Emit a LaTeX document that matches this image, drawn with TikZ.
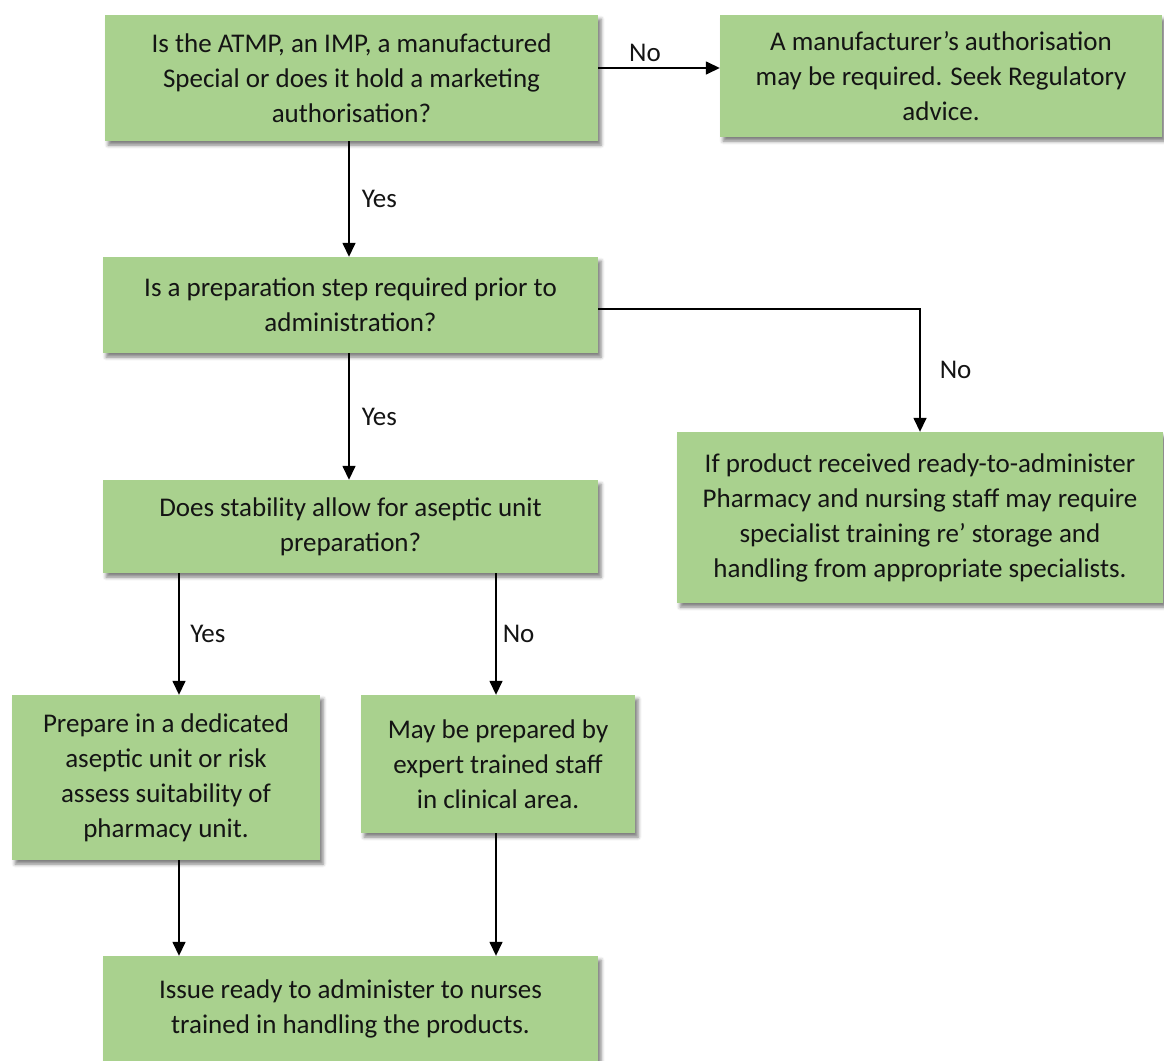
\documentclass[tikz,border=0pt]{standalone}
\usepackage{fontspec}
\setmainfont{Carlito}
\usetikzlibrary{arrows.meta,shadows.blur}
\definecolor{boxgreen}{RGB}{169,209,142}
\definecolor{inkdark}{RGB}{20,20,20}
\begin{document}
\begin{tikzpicture}[x=1pt,y=-1pt,
  box/.style={fill=boxgreen, draw=none, align=center, inner sep=0pt, text=inkdark,
    font=\fontsize{27}{35}\selectfont,
    blur shadow={shadow xshift=3pt, shadow yshift=-4pt, shadow blur radius=3.5pt, shadow opacity=50}},
  flow/.style={-{Triangle[length=14pt,width=13pt]}, line width=1.5pt, black},
  lbl/.style={font=\fontsize{27}{35}\selectfont, text=inkdark, inner sep=2pt}]
\useasboundingbox (0,0) rectangle (1164,1060);

% process boxes
\node[box, minimum width=493pt, minimum height=126pt] (A) at (351.5,78)
  {Is the ATMP, an IMP, a manufactured\\Special or does it hold a marketing\\authorisation?};
\node[box, minimum width=442pt, minimum height=122pt] (B) at (941,76)
  {A manufacturer’s authorisation\\may be required. Seek Regulatory\\advice.};
\node[box, minimum width=495pt, minimum height=96pt] (C) at (350.5,305)
  {Is a preparation step required prior to\\administration?};
\node[box, minimum width=486pt, minimum height=171pt] (D) at (920,517.5)
  {If product received ready-to-administer\\Pharmacy and nursing staff may require\\specialist training re’ storage and\\handling from appropriate specialists.};
\node[box, minimum width=495pt, minimum height=93pt] (E) at (350.5,526.5)
  {Does stability allow for aseptic unit\\preparation?};
\node[box, minimum width=308pt, minimum height=165pt] (F) at (166,777.5)
  {Prepare in a dedicated\\aseptic unit or risk\\assess suitability of\\pharmacy unit.};
\node[box, minimum width=274pt, minimum height=138pt] (G) at (498,764)
  {May be prepared by\\expert trained staff\\in clinical area.};
\node[box, minimum width=495pt, minimum height=106pt] (H) at (350.5,1009)
  {Issue ready to administer to nurses\\trained in handling the products.};

% connector tracks
\coordinate (colL) at (179,0);
\coordinate (colM) at (349,0);
\coordinate (colR) at (496,0);
\coordinate (rowAB) at (0,68);
\coordinate (rowCD) at (0,309);

% connectors
\draw[flow] (A.east |- rowAB) -- node[lbl, pos=0.385, above=4pt] {No} (B.west |- rowAB);
\draw[flow] (A.south -| colM) -- node[lbl, right=10pt] {Yes} (C.north -| colM);
\draw[flow] (C.east |- rowCD) -| node[lbl, pos=0.75, right=17pt] {No} (D.north);
\draw[flow] (C.south -| colM) -- node[lbl, right=10pt] {Yes} (E.north -| colM);
\draw[flow] (E.south -| colL) -- node[lbl, right=8.5pt] {Yes} (F.north -| colL);
\draw[flow] (E.south -| colR) -- node[lbl, right=4pt] {No} (G.north -| colR);
\draw[flow] (F.south -| colL) -- (H.north -| colL);
\draw[flow] (G.south -| colR) -- (H.north -| colR);
\end{tikzpicture}
\end{document}
